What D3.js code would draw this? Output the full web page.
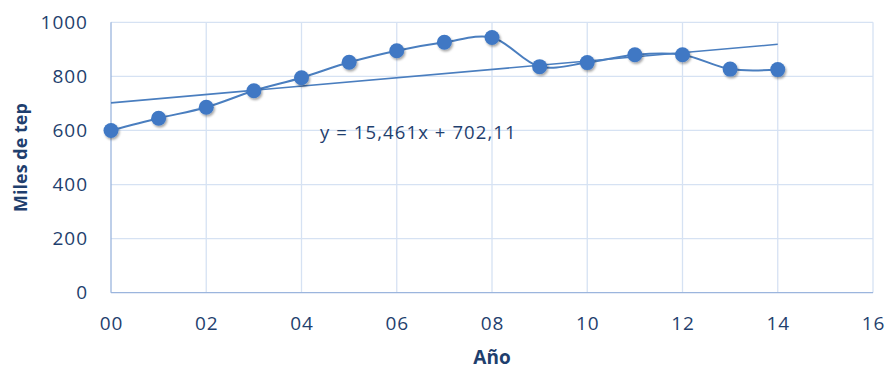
<!DOCTYPE html>
<html>
<head>
<meta charset="utf-8">
<script src="https://cdn.jsdelivr.net/npm/d3@7"></script>
<style>
  html, body { margin: 0; padding: 0; background: #fff; }
  svg { display: block; }
</style>
</head>
<body>
<svg id="chart" width="888" height="371"></svg>
<script>
// Consumo anual (miles de tep), años 2000–2014
const years = [0, 1, 2, 3, 4, 5, 6, 7, 8, 9, 10, 11, 12, 13, 14];
const values = [600, 645, 686, 747, 795, 852, 895, 926, 944, 836, 851, 880, 880, 827, 825];
const xTicks = [0, 2, 4, 6, 8, 10, 12, 14, 16];
const yTicks = [0, 200, 400, 600, 800, 1000];
const trendSlope = 15.461;
const trendIntercept = 702.11;
const trendLabel = "y = 15,461x + 702,11";

const svg = d3.select("#chart");
const margin = { left: 111, right: 15, top: 22.3, bottom: 78.3 };
const W = 888, H = 371;

const x = d3.scaleLinear().domain([0, 16]).range([margin.left, W - margin.right]);
const y = d3.scaleLinear().domain([0, 1000]).range([H - margin.bottom, margin.top]);

const font = "Open Sans, 'Noto Sans', sans-serif";
const textColor = "#1f3f6e";
const gridColor = "#d6e2f3";
const axisColor = "#9bb5dd";
const seriesColor = "#4a7ebf";

const defs = svg.append("defs");
const shadow = defs.append("filter").attr("id", "shadow")
  .attr("x", "-50%").attr("y", "-50%").attr("width", "200%").attr("height", "200%");
shadow.append("feDropShadow").attr("dx", 1.2).attr("dy", 1.8)
  .attr("stdDeviation", 1.3).attr("flood-color", "#000").attr("flood-opacity", 0.35);

// Gridlines
svg.append("g").selectAll("line").data(yTicks.filter(d => d > 0)).join("line")
  .attr("x1", x(0)).attr("x2", x(16))
  .attr("y1", d => y(d)).attr("y2", d => y(d))
  .attr("stroke", gridColor).attr("stroke-width", 1.3);
svg.append("g").selectAll("line").data(xTicks.filter(d => d > 0)).join("line")
  .attr("x1", d => x(d)).attr("x2", d => x(d))
  .attr("y1", y(0)).attr("y2", y(1000))
  .attr("stroke", gridColor).attr("stroke-width", 1.3);

// Axis lines
svg.append("line").attr("x1", x(0)).attr("x2", x(0)).attr("y1", y(0)).attr("y2", y(1000))
  .attr("stroke", axisColor).attr("stroke-width", 1.3);
svg.append("line").attr("x1", x(0)).attr("x2", x(16)).attr("y1", y(0)).attr("y2", y(0))
  .attr("stroke", axisColor).attr("stroke-width", 1.3);

// Tick labels
const yAxis = d3.axisLeft(y).tickValues(yTicks).tickSize(0).tickPadding(23).tickFormat(d3.format("d"));
const gy = svg.append("g").attr("transform", `translate(${x(0)},0)`).call(yAxis);
gy.select(".domain").remove();
gy.selectAll("text").attr("font-family", font).attr("font-size", 19)
  .attr("letter-spacing", 1).attr("fill", textColor);

const xAxis = d3.axisBottom(x).tickValues(xTicks).tickSize(0).tickPadding(24)
  .tickFormat(d => d3.format("02d")(d));
const gx = svg.append("g").attr("transform", `translate(0,${y(0)})`).call(xAxis);
gx.select(".domain").remove();
gx.selectAll("text").attr("font-family", font).attr("font-size", 19)
  .attr("letter-spacing", 1).attr("fill", textColor);

// Axis titles
svg.append("text").attr("x", x(8)).attr("y", 364).attr("text-anchor", "middle")
  .attr("font-family", font).attr("font-weight", "bold").attr("font-size", 19)
  .attr("fill", textColor).text("Año");
svg.append("text").attr("transform", `translate(27,${(y(0) + y(1000)) / 2}) rotate(-90)`)
  .attr("text-anchor", "middle")
  .attr("font-family", font).attr("font-weight", "bold").attr("font-size", 18)
  .attr("fill", textColor).text("Miles de tep");

// Linear trend line
const trendX = [d3.min(years), d3.max(years)];
svg.append("line")
  .attr("x1", x(trendX[0])).attr("y1", y(trendSlope * trendX[0] + trendIntercept))
  .attr("x2", x(trendX[1])).attr("y2", y(trendSlope * trendX[1] + trendIntercept))
  .attr("stroke", seriesColor).attr("stroke-width", 1.6);

// Smoothed series line
const line = d3.line().x((d, i) => x(years[i])).y(d => y(d)).curve(d3.curveCatmullRom.alpha(0.5));
svg.append("path").datum(values).attr("d", line)
  .attr("fill", "none").attr("stroke", seriesColor).attr("stroke-width", 2);

// Markers
svg.append("g").selectAll("circle").data(values).join("circle")
  .attr("cx", (d, i) => x(years[i])).attr("cy", d => y(d)).attr("r", 7.5)
  .attr("fill", "#3f78c4").attr("filter", "url(#shadow)");

// Trend equation
svg.append("text").attr("x", 320).attr("y", 138.5)
  .attr("font-family", font).attr("font-size", 18.5).attr("letter-spacing", 1.1)
  .attr("fill", textColor).text(trendLabel);
</script>
</body>
</html>
